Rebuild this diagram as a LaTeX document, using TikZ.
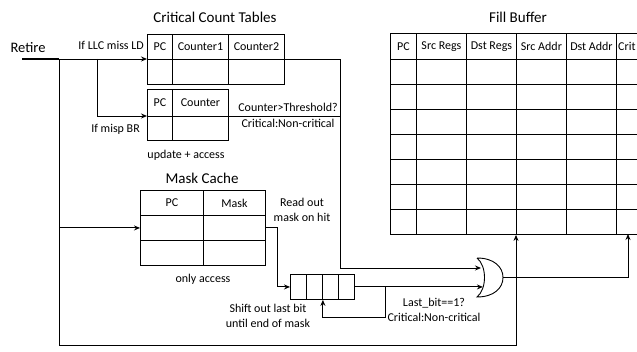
\documentclass[tikz,border=0pt]{standalone}
\usepackage{fontspec}
\setmainfont{Carlito}
\usetikzlibrary{positioning,arrows.meta,calc}
\tikzset{
  flowarrow/.style={-{Stealth[length=6pt,width=5pt]}, line width=0.9pt},
  wire/.style={line width=0.9pt},
  cell/.style={draw, line width=0.9pt, anchor=north west, inner sep=0pt, minimum height=25},
  heading/.style={font=\fontsize{15}{17}\selectfont},
  relabel/.style={font=\fontsize{12}{15}\selectfont, inner sep=1pt, align=center}
}

\begin{document}
\begin{tikzpicture}[x=1pt, y=-1pt, every node/.style={font=\fontsize{12}{15}\selectfont}]
  \useasboundingbox (0,0) rectangle (637,352);
  \clip (0,0) rectangle (637,352);

  % critical count tables
  \node[heading] (cctitle) at (215,17) {Critical Count Tables};
  \foreach \c/\x/\w/\t in {pc/147/25/PC, ca/172/56/Counter1, cb/228/56/Counter2} {
    \node[cell, minimum width=\w] (llc\c1) at (\x,34) {\t};
    \node[cell, minimum width=\w] (llc\c2) at (\x,59) {};
  }
  \foreach \c/\x/\w/\t in {pc/147/25/PC, ct/172/56/Counter} {
    \node[cell, minimum width=\w, minimum height=27] (misp\c1) at (\x,89) {\t};
    \node[cell, minimum width=\w, minimum height=24] (misp\c2) at (\x,116) {};
  }
  \node[font=\fontsize{14.5}{16}\selectfont] (retire) at (28,48) {Retire};
  \node[relabel, anchor=east] (llclbl) at (145,45) {If LLC miss LD};
  \node[relabel, anchor=east] (misplbl) at (141,129) {If misp BR};
  \node[relabel] (updlbl) at (186,155) {update + access};
  \node[relabel] (thrlbl) at (288,107) {Counter>Threshold?};
  \node[relabel] (critlbl) at (288,123) {Critical:Non-critical};

  % mask cache
  \node[heading] (masktitle) at (202,178) {Mask Cache};
  \foreach \c/\x/\w/\t in {pc/140/63/PC, mk/203/62/Mask} {
    \node[cell, minimum width=\w] (mask\c1) at (\x,190) {\t};
    \node[cell, minimum width=\w] (mask\c2) at (\x,215) {};
    \node[cell, minimum width=\w] (mask\c3) at (\x,240) {};
  }
  \node[relabel] (readlbl) at (302,210) {Read out\\mask on hit};
  \node[relabel] (acclbl) at (203,279) {only access};

  % shift register
  \foreach \i/\x in {1/290, 2/306, 3/322, 4/338}
    \node[cell, minimum width=16] (shr\i) at (\x,274) {};
  \node[relabel] (shiftlbl) at (268,315.5) {Shift out last bit\\until end of mask};
  \node[relabel] (lastlbl) at (434,309.5) {Last\_bit==1?\\Critical:Non-critical};

  % fill buffer
  \node[heading] (fbtitle) at (518,17) {Fill Buffer};
  \foreach \c/\x/\w/\t in {pc/390/26/PC, sr/416/50/Src Regs, dr/466/50/Dst Regs, sa/516/50/Src Addr, da/566/50/Dst Addr, cr/616/50/} {
    \node[cell, minimum width=\w, minimum height=26] (fb\c0) at (\x,33) {\t};
    \foreach \r in {1,...,7}
      \node[cell, minimum width=\w] (fb\c\r) at (\x,{34+25*\r}) {};
  }
  \node[anchor=west, inner sep=1pt] (fbcrit) at (617,46) {Crit};

  % or gate
  \coordinate (orin1) at (481,268);
  \coordinate (orout) at (503,277.5);
  \draw[wire] (477,258) .. controls (487,266) and (487,289) .. (477,297)
    .. controls (494,297) and (503,288) .. (orout)
    .. controls (503,267) and (494,258) .. (477,258);

  % connectors
  \coordinate (start) at (22,59);
  \coordinate (split0) at (59,59);
  \coordinate (split1) at (97,59);
  \coordinate (critin) at (628,234);
  \draw[wire, line width=1.5pt] (start) -- (split0);
  \draw[flowarrow] (split0) -- (llcpc2.north west);
  \draw[flowarrow] (split1) |- (misppc2.north west);
  \draw[flowarrow] (split0 |- maskpc2.west) -- (maskpc2.west);
  \draw[flowarrow] (split0) -- ++(0,286) -| (fbsa7.south west);
  \draw[flowarrow] (llccb2.north east) -- ++(56,0) |- (orin1);
  \draw[wire] (mispct2.north east) -- ++(112,0);
  \draw[flowarrow] (maskmk2.east) -- ++(12,0) |- (shr1.west);
  \draw[flowarrow] (shr4.east) -- ++(128,0);
  \draw[flowarrow] ($(shr4.east)+(31,0)$) -- ++(0,31) -| (shr2.south east);
  \draw[flowarrow] (orout) -| (critin);
\end{tikzpicture}
\end{document}
